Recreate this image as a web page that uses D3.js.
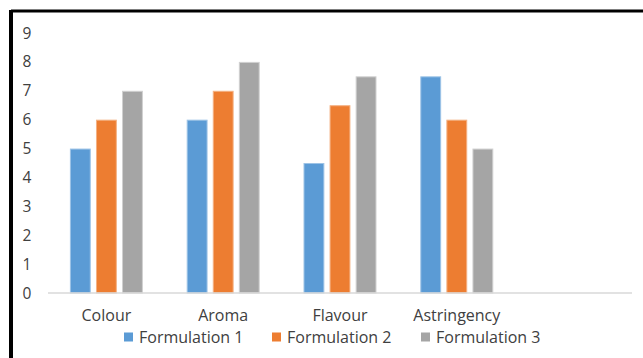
<!DOCTYPE html>
<html><head><meta charset="utf-8">
<script src="https://cdn.jsdelivr.net/npm/d3@7/dist/d3.min.js"></script>
<style>html,body{margin:0;padding:0;background:#fff;}svg{display:block;}</style>
</head><body>
<svg id="chart" width="643" height="358"></svg>
<script>
const categories = ["Colour", "Aroma", "Flavour", "Astringency", ""];
const seriesNames = ["Formulation 1", "Formulation 2", "Formulation 3"];
const formulation1 = [5, 6, 4.5, 7.5];
const formulation2 = [6, 7, 6.5, 6];
const formulation3 = [7, 8, 7.5, 5];
const yTicks = [0, 1, 2, 3, 4, 5, 6, 7, 8, 9];
const colors = ["#5B9BD5", "#ED7D31", "#A5A5A5"];
const strokeColors = ["#9DC3E6", "#F4B183", "#D0D0D0"];

const seriesValues = [formulation1, formulation2, formulation3];
const svg = d3.select("#chart");
const font = "'Open Sans', sans-serif";

// frame
svg.append("line").attr("x1", 11).attr("x2", 643).attr("y1", 11).attr("y2", 11)
  .attr("stroke", "#000").attr("stroke-width", 3);
svg.append("line").attr("x1", 11).attr("x2", 11).attr("y1", 10).attr("y2", 358)
  .attr("stroke", "#000").attr("stroke-width", 4);

const plotLeft = 48, plotRight = 632, plotTop = 33, plotBottom = 293;
const x0 = d3.scaleBand().domain(categories.map((c, i) => i)).range([plotLeft, plotRight]);
const x1 = d3.scaleBand().domain(d3.range(3)).range([x0.bandwidth() * 0.1875, x0.bandwidth() * 0.8125]).paddingInner(0.2);
const y = d3.scaleLinear().domain([0, 9]).range([plotBottom, plotTop]);

// y tick labels
svg.append("g").selectAll("text").data(yTicks).join("text")
  .attr("x", 27).attr("y", d => y(d)).attr("dy", "0.36em")
  .attr("text-anchor", "middle").attr("font-family", font).attr("font-size", 15.5)
  .attr("fill", "#404040").text(d => d);

// bars
const groups = svg.append("g").selectAll("g").data(seriesValues).join("g");
groups.each(function(vals, s) {
  d3.select(this).selectAll("rect").data(vals).join("rect")
    .attr("x", (d, i) => x0(i) + x1(s) + 0.5)
    .attr("y", d => y(d) + 0.5)
    .attr("width", x1.bandwidth() - 1)
    .attr("height", d => plotBottom - y(d) - 0.5)
    .attr("fill", colors[s])
    .attr("stroke", strokeColors[s]).attr("stroke-width", 1);
});

// baseline
svg.append("line").attr("x1", plotLeft).attr("x2", plotRight).attr("y1", plotBottom).attr("y2", plotBottom)
  .attr("stroke", "#D9D9D9").attr("stroke-width", 1.5);

// category labels
svg.append("g").selectAll("text").data(categories).join("text")
  .attr("x", (d, i) => x0(i) + x0.bandwidth() / 2).attr("y", 315).attr("dy", "0.36em")
  .attr("text-anchor", "middle").attr("font-family", font).attr("font-size", 16)
  .attr("fill", "#404040").text(d => d);

// legend
const legendX = [124, 272, 421];
const leg = svg.append("g").selectAll("g").data(seriesNames).join("g")
  .attr("transform", (d, i) => `translate(${legendX[i]},337)`);
leg.append("rect").attr("x", 0).attr("y", -4.5).attr("width", 9).attr("height", 9)
  .attr("fill", (d, i) => colors[i]);
leg.append("text").attr("x", 15).attr("y", 0).attr("dy", "0.36em")
  .attr("font-family", font).attr("font-size", 16).attr("fill", "#404040").text(d => d);
</script>
</body></html>
